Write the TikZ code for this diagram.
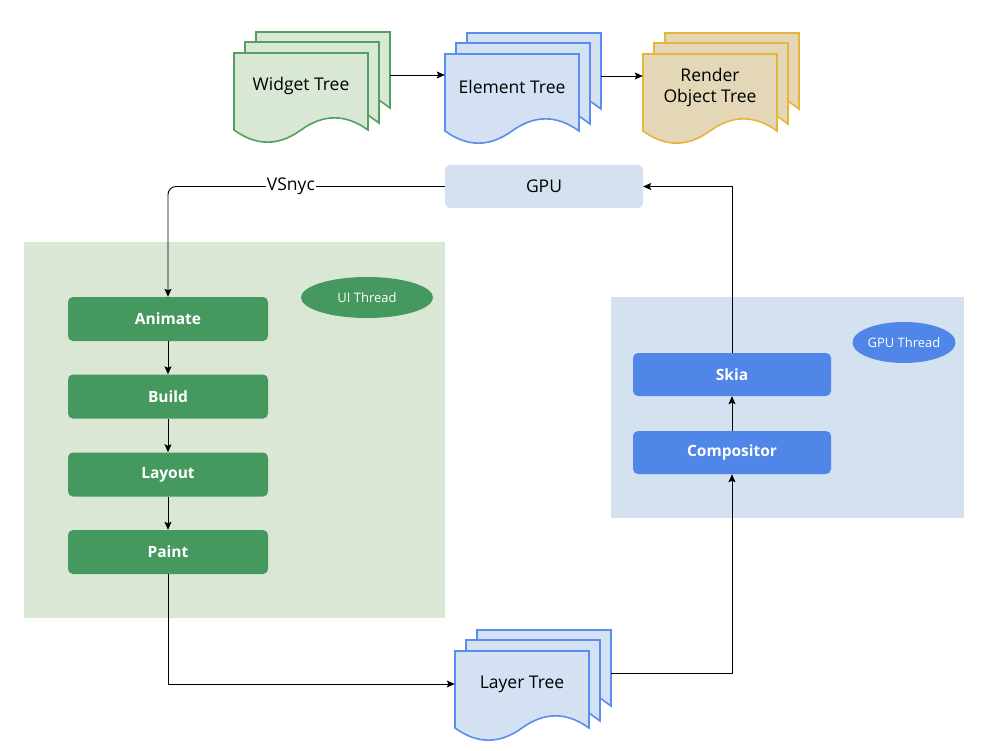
\documentclass[tikz,border=0pt]{standalone}
\usepackage{fontspec}
\setmainfont{Open Sans}
\usepackage{tikz}
\usetikzlibrary{arrows.meta,positioning,shapes.geometric}
\definecolor{AreaGreen}{HTML}{DAE7D5}
\definecolor{AreaBlue}{HTML}{D4E1F1}
\definecolor{StepGreen}{HTML}{45995F}
\definecolor{StepBlue}{HTML}{5086E8}
\definecolor{DocGreenFill}{HTML}{D9E8D4}
\definecolor{DocGreenLine}{HTML}{52A05F}
\definecolor{DocBlueFill}{HTML}{D4E1F2}
\definecolor{DocBlueLine}{HTML}{5A8EEE}
\definecolor{DocSandFill}{HTML}{E3D7B8}
\definecolor{DocSandLine}{HTML}{E9B43C}
\tikzset{
  pics/multidoc/.style n args={3}{code={
    \draw[docline,fill=#1,draw=#2] (22,-21) -- (156,-21) -- (156,55) -- (145,47) -- (22,47) -- cycle;
    \draw[docline,fill=#1,draw=#2] (11,-11) -- (145,-11) -- (145,70) -- (134,62) -- (11,62) -- cycle;
    \draw[docline,fill=#1,draw=#2] (0,0) -- (134,0) -- (134,77)
      .. controls (111.67,60.8) and (89.33,60.8) .. (67,77)
      .. controls (44.67,93.2) and (22.33,93.2) .. (0,77) -- cycle;
    \node[doctext] (-doc) at (67,33) {#3};
    \coordinate (-in) at (0,22);
    \coordinate (-out) at (156,22);
  }}
}

\begin{document}
\begin{tikzpicture}[x=1pt,y=-1pt,
  font=\fontsize{17.5}{21}\selectfont,
  area/.style={inner sep=0pt,outer sep=0pt},
  docline/.style={line width=1.6pt,line join=miter},
  doctext/.style={minimum width=134pt,minimum height=66pt,inner sep=0pt,align=center,text=black},
  stepbox/.style={fill=StepGreen,rounded corners=5pt,minimum width=200pt,minimum height=44pt,
    inner sep=0pt,text=white,font=\fontsize{15.5}{18}\selectfont\bfseries},
  gpubox/.style={fill=StepBlue,rounded corners=5pt,minimum width=198pt,minimum height=43pt,
    inner sep=0pt,text=white,font=\fontsize{15.5}{18}\selectfont\bfseries},
  thread/.style={ellipse,inner sep=0pt,text=white,font=\fontsize{13}{15}\selectfont},
  flow/.style={-{Stealth[length=8pt,width=7pt,inset=1.5pt]},draw=black,line width=.9pt},
  edgelabel/.style={fill=white,inner sep=1pt}
]
  \useasboundingbox (0,0) rectangle (984,751);

  \node[area,fill=AreaGreen,minimum width=421pt,minimum height=376pt] (uiarea) at (234.5,430) {};
  \node[area,fill=AreaBlue,minimum width=353pt,minimum height=221pt] (gpuarea) at (787.5,407.5) {};

  \pic (widget) at (234,53) {multidoc={DocGreenFill}{DocGreenLine}{Widget Tree}};
  \pic (element) at (445,54) {multidoc={DocBlueFill}{DocBlueLine}{Element Tree}};
  \pic (render) at (643,54) {multidoc={DocSandFill}{DocSandLine}{Render\\Object Tree}};
  \pic (layer) at (455,651) {multidoc={DocBlueFill}{DocBlueLine}{Layer Tree}};

  \node[fill=AreaBlue,rounded corners=5pt,minimum width=198pt,minimum height=43pt,inner sep=0pt] (gpu) at (544,186.5) {GPU};

  \node[thread,fill=StepGreen,minimum width=132pt,minimum height=41pt] (uithread) at (367,297.5) {UI Thread};
  \node[thread,fill=StepBlue,minimum width=98pt,minimum height=41pt] (gputhread) at (904,342.5) {GPU Thread};

  \node[stepbox] (animate) at (168,319) {Animate};
  \node[stepbox] (build) at (168,396.5) {Build};
  \node[stepbox] (layout) at (168,474.5) {Layout};
  \node[stepbox] (paint) at (168,552) {Paint};

  \node[gpubox] (skia) at (732,374.5) {Skia};
  \node[gpubox] (compositor) at (732,452.5) {Compositor};

  \draw[flow] (widget-out) -- (widget-out -| element-doc.west);
  \draw[flow] (element-out) -- (element-out -| render-doc.west);
  \draw[flow,rounded corners=8pt] (gpu.west) -| node[edgelabel,pos=.278] {VSnyc} (animate.north);
  \draw[flow] (animate) -- (build);
  \draw[flow] (build) -- (layout);
  \draw[flow] (layout) -- (paint);
  \draw[flow] (paint.south) |- (layer-doc.west);
  \draw[flow] (layer-out) -| (compositor.south);
  \draw[flow] (compositor) -- (skia);
  \draw[flow] (skia.north) |- (gpu.east);
\end{tikzpicture}
\end{document}
